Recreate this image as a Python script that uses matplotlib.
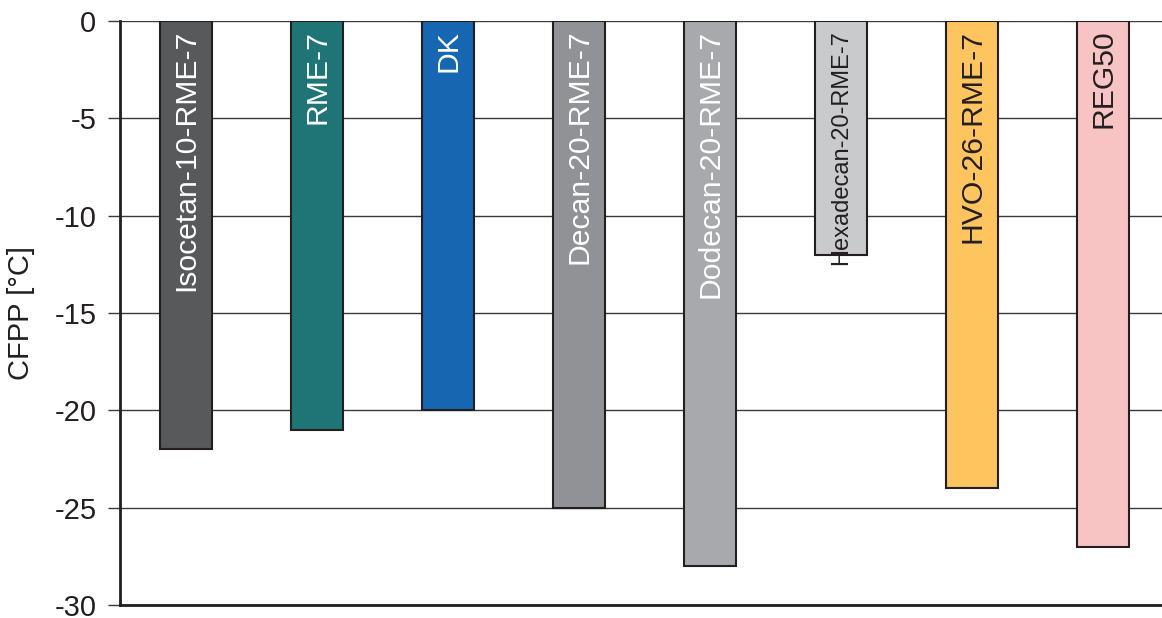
import matplotlib
matplotlib.use("Agg")
from matplotlib import pyplot as plt

# data
fuels = ["Isocetan-10-RME-7", "RME-7", "DK", "Decan-20-RME-7", "Dodecan-20-RME-7",
         "Hexadecan-20-RME-7", "HVO-26-RME-7", "REG50"]
cfpp = [-22, -21, -20, -25, -28, -12, -24, -27]
colors = ["#58595b", "#1f7576", "#1766b1", "#909295", "#a7a9ac",
          "#c9cacc", "#fec55f", "#f7c3c3"]
text_colors = ["white", "white", "white", "white", "white", "#231f20", "#231f20", "#231f20"]
label_sizes = [21.7, 21.7, 21.7, 21.7, 21.7, 17, 21.7, 21.7]

plt.rcParams['font.family'] = ['Liberation Sans', 'DejaVu Sans']
plt.rcParams['axes.unicode_minus'] = False

fig = plt.figure(figsize=(11.62, 6.18), dpi=100)
ax = fig.add_axes([120/1162, 1 - 605/618, 1042/1162, 584/618])

x = range(len(fuels))
ax.bar(x, cfpp, width=0.4, color=colors, edgecolor="#231f20", linewidth=1.5, zorder=3)

for i in x:
    ax.text(i, -0.45, fuels[i], rotation=90, ha="center", va="top",
            color=text_colors[i], fontsize=label_sizes[i], zorder=4)

ax.set_xlim(-0.504, 7.45)
ax.set_ylim(-30, 0)
ax.set_yticks(range(-30, 1, 5))
ax.set_xticks([])
ax.yaxis.grid(True, color="#3a3a3a", linewidth=1, zorder=0)
ax.tick_params(axis="y", labelsize=21, length=9, width=1, pad=8,
               color="#3a3a3a", labelcolor="#231f20")
ax.set_ylabel("CFPP [°C]", fontsize=21, color="#231f20", labelpad=14)

for s in ["top", "right"]:
    ax.spines[s].set_visible(False)
ax.spines["left"].set_linewidth(2)
ax.spines["bottom"].set_linewidth(2)
ax.spines["left"].set_color("#231f20")
ax.spines["bottom"].set_color("#231f20")

fig.savefig("out.png", dpi=100)
